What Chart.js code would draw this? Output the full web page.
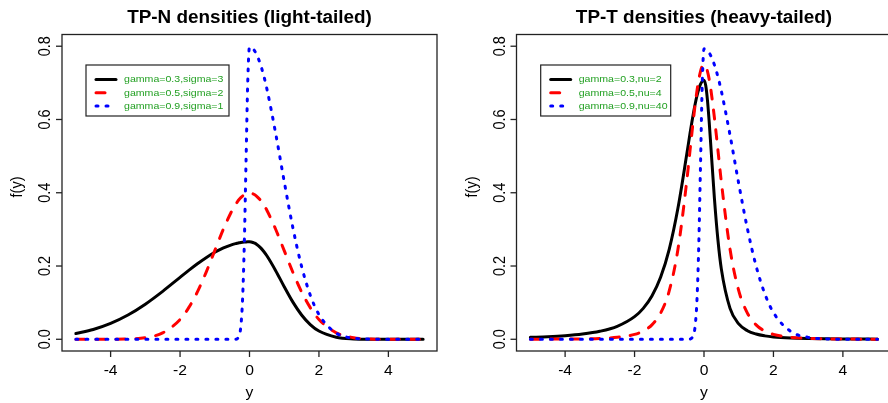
<!DOCTYPE html>
<html>
<head>
<meta charset="utf-8">
<script src="https://cdn.jsdelivr.net/npm/chart.js@4/dist/chart.umd.min.js"></script>
<style>
    html, body { margin: 0; padding: 0; background: #fff; overflow: hidden; width: 888px; height: 403px; }
    #wrap { position: relative; width: 888px; height: 403px; overflow: hidden; }
    canvas { position: absolute; top: 0; }
    #chartLeft { left: 0; width: 444px; height: 403px; }
    #chartRight { left: 444px; width: 450px; height: 403px; }
</style>
</head>
<body>
<div id="wrap">
    <canvas id="chartLeft" width="444" height="403"></canvas>
    <canvas id="chartRight" width="450" height="403"></canvas>
</div>
<script>
    // values
    const xValues = [-5, -4.5, -4, -3.5, -3, -2.5, -2, -1.75, -1.5, -1.25, -1, -0.75, -0.5,
        -0.4, -0.35, -0.3, -0.25, -0.2, -0.15, -0.1, -0.05,
        0,
        0.05, 0.1, 0.15, 0.2, 0.3, 0.4, 0.5,
        0.75, 1, 1.25, 1.5, 1.75, 2,
        2.5, 3, 3.5, 4, 4.5, 5]

    const tpnBlack = [0.0156, 0.0268, 0.0434, 0.0663, 0.0959, 0.1309, 0.1690, 0.1880, 0.2061, 0.2228, 0.2374, 0.2495, 0.2585,
        0.2612, 0.2623, 0.2633, 0.2641, 0.2648, 0.2653, 0.2657, 0.2659,
        0.2660,
        0.2656, 0.2643, 0.2623, 0.2595, 0.2516, 0.2410, 0.2279,
        0.1880, 0.1435, 0.1014, 0.0663, 0.0402, 0.0225,
        0.0056, 0.0010, 0.0001, 0, 0, 0]

    const tpnRed = [0, 0, 0.0001, 0.0009, 0.0044, 0.0175, 0.0540, 0.0863, 0.1295, 0.1827, 0.2420, 0.3011, 0.3521,
        0.3683, 0.3752, 0.3814, 0.3867, 0.3910, 0.3945, 0.3970, 0.3984,
        0.3989,
        0.3984, 0.3970, 0.3945, 0.3910, 0.3814, 0.3683, 0.3521,
        0.3011, 0.2420, 0.1827, 0.1295, 0.0863, 0.0540,
        0.0175, 0.0044, 0.0009, 0.0001, 0, 0]

    const tpnBlue = [0, 0, 0, 0, 0, 0, 0, 0, 0, 0, 0, 0, 0,
        0.0003, 0.0018, 0.0089, 0.0351, 0.1080, 0.2590, 0.4839, 0.7041,
        0.7979,
        0.7967, 0.7930, 0.7869, 0.7784, 0.7548, 0.7229, 0.6838,
        0.5639, 0.4304, 0.3042, 0.1990, 0.1205, 0.0676,
        0.0168, 0.0031, 0.0004, 0, 0, 0]

    const tptBlack = [0.0052, 0.0070, 0.0098, 0.0143, 0.0218, 0.0353, 0.0617, 0.0844, 0.1182, 0.1692, 0.2462, 0.3581, 0.5029,
        0.5636, 0.5926, 0.6198, 0.6445, 0.6659, 0.6833, 0.6964, 0.7044,
        0.7071,
        0.6926, 0.6520, 0.5926, 0.5233, 0.3849, 0.2724, 0.1915,
        0.0844, 0.0421, 0.0235, 0.0143, 0.0093, 0.0063,
        0.0033, 0.0019, 0.0012, 0.0008, 0.0006, 0.0004]

    const tptRed = [0.0002, 0.0004, 0.0006, 0.0012, 0.0024, 0.0053, 0.0134, 0.0225, 0.0394, 0.0714, 0.1326, 0.2458, 0.4293,
        0.5175, 0.5618, 0.6046, 0.6445, 0.6800, 0.7094, 0.7316, 0.7453,
        0.7500,
        0.7453, 0.7316, 0.7094, 0.6800, 0.6046, 0.5175, 0.4293,
        0.2458, 0.1326, 0.0714, 0.0394, 0.0225, 0.0134,
        0.0053, 0.0024, 0.0012, 0.0006, 0.0004, 0.0002]

    const tptBlue = [0, 0, 0, 0, 0, 0, 0, 0, 0, 0, 0, 0, 0,
        0.0008, 0.0033, 0.0124, 0.0404, 0.1124, 0.2583, 0.4780, 0.6979,
        0.7930,
        0.7917, 0.7880, 0.7818, 0.7732, 0.7491, 0.7168, 0.6774,
        0.5572, 0.4252, 0.3020, 0.2002, 0.1245, 0.0729,
        0.0213, 0.0052, 0.0011, 0.0002, 0, 0]

    const xTicks = [-4, -2, 0, 2, 4]
    const yTicks = [0, 0.2, 0.4, 0.6, 0.8]
    const yTickLabels = ['0.0', '0.2', '0.4', '0.6', '0.8']

    const leftTitle = 'TP-N densities (light-tailed)'
    const rightTitle = 'TP-T densities (heavy-tailed)'
    const leftLegend = ['gamma=0.3,sigma=3', 'gamma=0.5,sigma=2', 'gamma=0.9,sigma=1']
    const rightLegend = ['gamma=0.3,nu=2', 'gamma=0.5,nu=4', 'gamma=0.9,nu=40']

    /*
    * line styles
    */
    const styles = [
        { color: '#000000', dash: [], order: 3 },
        { color: '#ff0000', dash: [9, 11], order: 2 },
        { color: '#0000ff', dash: [2, 8], order: 1 }
    ]

    const FONT = '"Liberation Sans", Arial, Helvetica, sans-serif'
    const STRETCH = 1.08

    const drawText = (ctx, str, x, y, font, align, baseline, rotate, color) => {
        ctx.save()
        ctx.translate(x, y)
        ctx.scale(STRETCH, 1)
        if (rotate) ctx.rotate(-Math.PI / 2)
        ctx.font = font
        ctx.fillStyle = color || '#000'
        ctx.textAlign = align
        ctx.textBaseline = baseline
        ctx.fillText(str, 0, 0)
        ctx.restore()
    }

    // box, axes, titles and legend drawn R style
    const panelDecor = {
        id: 'panelDecor',
        afterDraw(chart, args, opts) {
            const ctx = chart.ctx
            const area = chart.chartArea
            const xs = chart.scales.x
            const ys = chart.scales.y
            const midX = (area.left + area.right) / 2

            ctx.save()
            ctx.strokeStyle = '#222'
            ctx.lineWidth = 1.3
            ctx.setLineDash([])
            ctx.strokeRect(area.left, area.top, area.right - area.left, area.bottom - area.top)

            xTicks.forEach((v) => {
                let px = xs.getPixelForValue(v)
                ctx.beginPath()
                ctx.moveTo(px, area.bottom)
                ctx.lineTo(px, area.bottom + 6)
                ctx.stroke()
                drawText(ctx, String(v), px, area.bottom + 24, '14.5px ' + FONT, 'center', 'alphabetic')
            })

            yTicks.forEach((v, i) => {
                let py = ys.getPixelForValue(v)
                ctx.beginPath()
                ctx.moveTo(area.left - 6, py)
                ctx.lineTo(area.left, py)
                ctx.stroke()
                drawText(ctx, yTickLabels[i], area.left - 12, py, '14.5px ' + FONT, 'center', 'alphabetic', true)
            })

            drawText(ctx, opts.title, midX, 23, 'bold 17.5px ' + FONT, 'center', 'alphabetic')
            drawText(ctx, 'y', midX, 397, '14.5px ' + FONT, 'center', 'alphabetic')
            drawText(ctx, 'f(y)', area.left - 40, 187, '14.5px ' + FONT, 'center', 'alphabetic', true)

            // legend
            const lb = opts.legendBox
            ctx.lineWidth = 1.2
            ctx.strokeStyle = '#222'
            ctx.strokeRect(lb.x, lb.y, lb.w, lb.h)

            opts.labels.forEach((label, i) => {
                let rowY = lb.y + 14.5 + i * 13.3
                ctx.beginPath()
                ctx.lineWidth = 3
                ctx.lineCap = 'round'
                ctx.strokeStyle = styles[i].color
                ctx.setLineDash(styles[i].dash)
                ctx.moveTo(lb.x + 10, rowY)
                ctx.lineTo(lb.x + 30, rowY)
                ctx.stroke()
                ctx.setLineDash([])
                drawText(ctx, label, lb.x + 38, rowY, '9.8px ' + FONT, 'left', 'middle', false, '#22a022')
            })
            ctx.restore()
        }
    }

    const buildDatasets = (series) => {
        return series.map((values, i) => ({
            data: xValues.map((x, k) => ({ x: x, y: values[k] })),
            borderColor: styles[i].color,
            borderDash: styles[i].dash,
            borderCapStyle: 'round',
            borderWidth: 3,
            order: styles[i].order,
            fill: false
        }))
    }

    const makePanel = (canvasID, series, title, labels, padding, legendBox) => {
        return new Chart(document.getElementById(canvasID).getContext('2d'), {
            type: 'line',
            data: { datasets: buildDatasets(series) },
            options: {
                responsive: false,
                animation: false,
                devicePixelRatio: 1,
                layout: { padding: padding },
                elements: {
                    point: { radius: 0 },
                    line: { cubicInterpolationMode: 'monotone' }
                },
                scales: {
                    x: { type: 'linear', min: -5.4, max: 5.4, display: false },
                    y: { type: 'linear', min: -0.032, max: 0.832, display: false }
                },
                plugins: {
                    legend: { display: false },
                    tooltip: { enabled: false },
                    panelDecor: { title: title, labels: labels, legendBox: legendBox }
                }
            },
            plugins: [panelDecor]
        })
    }

    document.addEventListener('DOMContentLoaded', function() {

        makePanel('chartLeft', [tpnBlack, tpnRed, tpnBlue], leftTitle, leftLegend,
            { left: 62, right: 7, top: 34.5, bottom: 52 },
            { x: 86, y: 65, w: 143, h: 51 })

        makePanel('chartRight', [tptBlack, tptRed, tptBlue], rightTitle, rightLegend,
            { left: 72.5, right: 2.5, top: 34.5, bottom: 52 },
            { x: 96.7, y: 65, w: 130, h: 51 })

    })
</script>
</body>
</html>
